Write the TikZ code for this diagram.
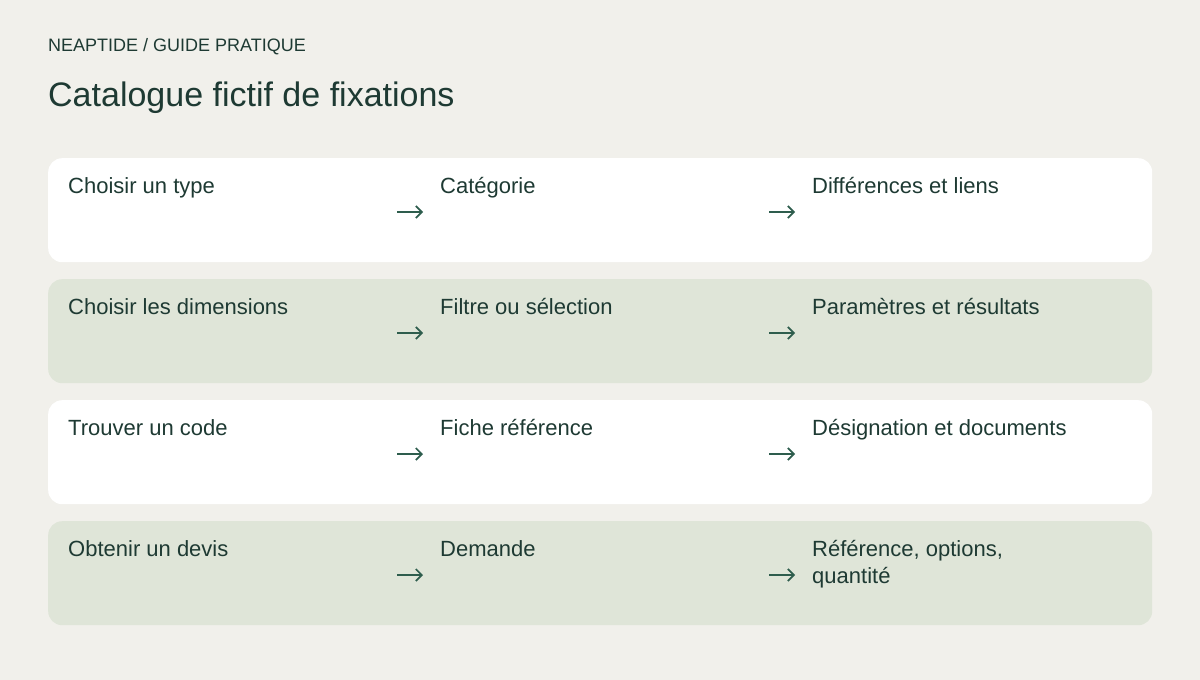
\documentclass[tikz,border=0pt]{standalone}
\usepackage{fontspec}
\setmainfont{Liberation Sans}
\usetikzlibrary{arrows.meta}
\definecolor{pagebg}{HTML}{F1F0EB}
\definecolor{rowgreen}{HTML}{DFE5D8}
\definecolor{inkdark}{HTML}{1E3A33}
\definecolor{arrowgreen}{HTML}{2E5D4D}
\tikzset{
  rowbox/.style={rounded corners=14pt, minimum width=1104pt, minimum height=104pt, inner sep=0pt, anchor=north west},
  steptext/.style={anchor=base west, inner sep=0pt, text=inkdark, font=\fontsize{22}{27}\selectfont, align=left},
  flow/.style={draw=arrowgreen, line width=1.7pt, -{Straight Barb[length=6pt,width=12pt,line width=1.7pt]}}
}
\begin{document}
\begin{tikzpicture}[x=1pt, y=-1pt]
\fill[pagebg] (0,0) rectangle (1200,680);
\useasboundingbox (0,0) rectangle (1200,680);
\node[anchor=base west, inner sep=0pt, text=inkdark, font=\fontsize{18}{20}\selectfont] (kicker) at (48,51) {NEAPTIDE / GUIDE PRATIQUE};
\node[anchor=base west, inner sep=0pt, text=inkdark, font=\fontsize{34}{40}\selectfont] (title) at (48,106) {Catalogue fictif de fixations};
% rows
\node[rowbox, fill=white] (row1) at (48,158){};
\node[rowbox, fill=rowgreen] (row2) at (48,279){};
\node[rowbox, fill=white] (row3) at (48,400){};
\node[rowbox, fill=rowgreen] (row4) at (48,521){};
% row 1
\node[steptext] (r1a) at (68,193){Choisir un type};
\node[steptext] (r1b) at (440,193){Catégorie};
\node[steptext] (r1c) at (812,193){Différences et liens};
\coordinate (r1ab0) at (397,212);
\coordinate (r1ab1) at (423,212);
\coordinate (r1bc0) at (769,212);
\coordinate (r1bc1) at (795,212);
\draw[flow](r1ab0) -- (r1ab1);
\draw[flow](r1bc0) -- (r1bc1);
% row 2
\node[steptext] (r2a) at (68,314){Choisir les dimensions};
\node[steptext] (r2b) at (440,314){Filtre ou sélection};
\node[steptext] (r2c) at (812,314){Paramètres et résultats};
\coordinate (r2ab0) at (397,333);
\coordinate (r2ab1) at (423,333);
\coordinate (r2bc0) at (769,333);
\coordinate (r2bc1) at (795,333);
\draw[flow](r2ab0) -- (r2ab1);
\draw[flow](r2bc0) -- (r2bc1);
% row 3
\node[steptext] (r3a) at (68,435){Trouver un code};
\node[steptext] (r3b) at (440,435){Fiche référence};
\node[steptext] (r3c) at (812,435){Désignation et documents};
\coordinate (r3ab0) at (397,454);
\coordinate (r3ab1) at (423,454);
\coordinate (r3bc0) at (769,454);
\coordinate (r3bc1) at (795,454);
\draw[flow](r3ab0) -- (r3ab1);
\draw[flow](r3bc0) -- (r3bc1);
% row 4 (two-line text sits on its last baseline)
\node[steptext] (r4a) at (68,556){Obtenir un devis};
\node[steptext] (r4b) at (440,556){Demande};
\node[steptext] (r4c) at (812,583){Référence, options,\\quantité};
\coordinate (r4ab0) at (397,575);
\coordinate (r4ab1) at (423,575);
\coordinate (r4bc0) at (769,575);
\coordinate (r4bc1) at (795,575);
\draw[flow](r4ab0) -- (r4ab1);
\draw[flow](r4bc0) -- (r4bc1);
\end{tikzpicture}
\end{document}
